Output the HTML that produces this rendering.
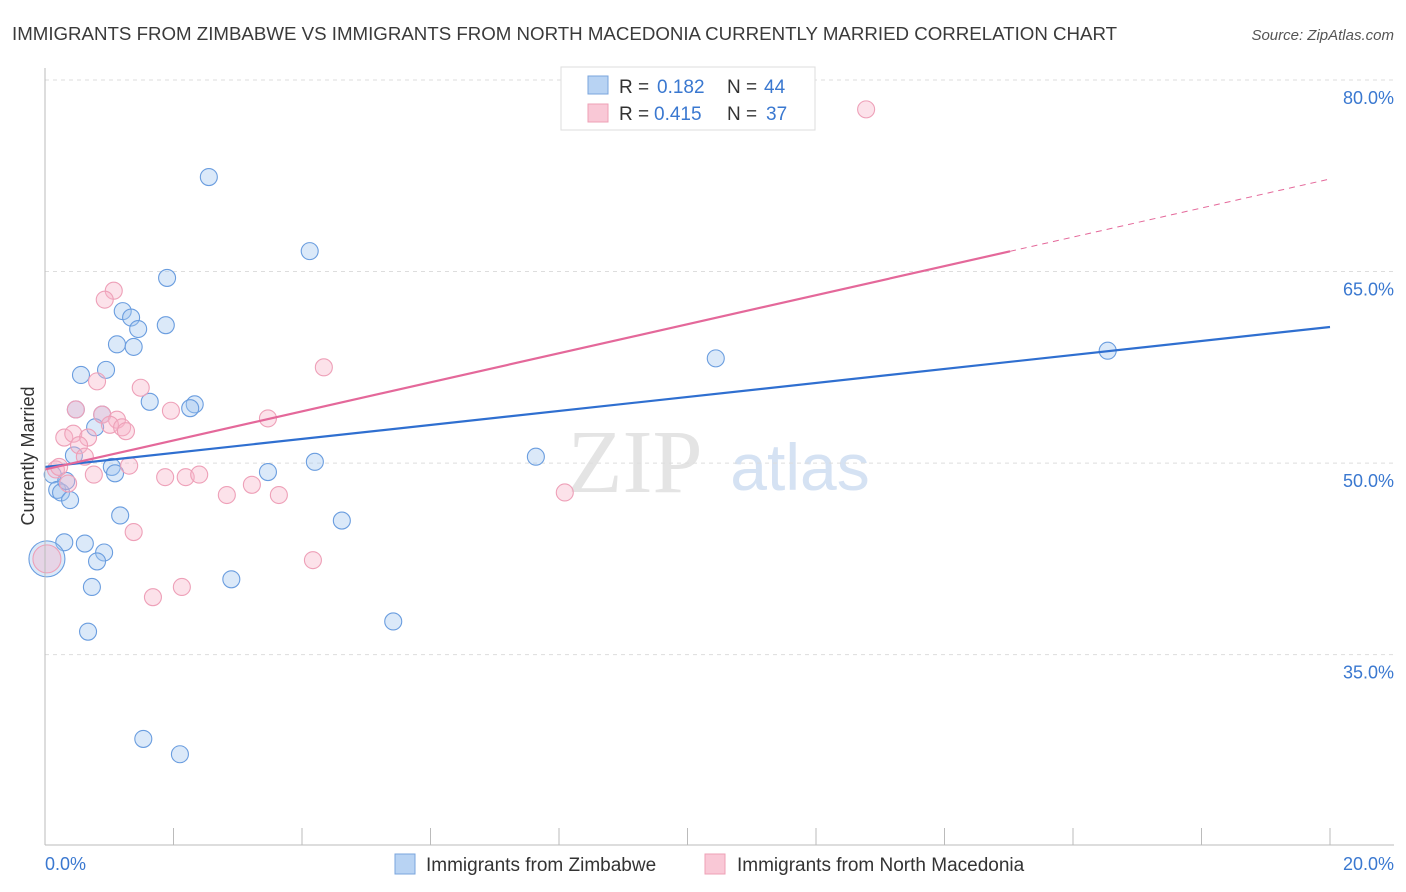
<!DOCTYPE html>
<html><head><meta charset="utf-8"><style>
body{margin:0;background:#fff;font-family:"Liberation Sans",sans-serif;}
svg{display:block}
</style></head><body>
<svg id="c" width="1406" height="892">
<text x="12" y="40" font-size="18.7" fill="#3a3a3a">IMMIGRANTS FROM ZIMBABWE VS IMMIGRANTS FROM NORTH MACEDONIA CURRENTLY MARRIED CORRELATION CHART</text>
<text x="1394" y="40" font-size="15" fill="#555" font-style="italic" text-anchor="end">Source: ZipAtlas.com</text>
<text x="34" y="456" font-size="18" fill="#333" text-anchor="middle" transform="rotate(-90 34 456)">Currently Married</text>
<text x="635" y="492" font-size="90" fill="#e4e4e4" font-family="Liberation Serif,serif" text-anchor="middle">ZIP</text>
<text x="800" y="490" font-size="66" fill="#d5e2f3" text-anchor="middle">atlas</text>
<g id="grid"></g><g id="pts"></g><g id="lines"></g>
<line x1="45" y1="68" x2="45" y2="845" stroke="#bbb"/>
<line x1="45" y1="845" x2="1394" y2="845" stroke="#bbb"/>
<text x="45" y="870" font-size="18" fill="#3a78d0">0.0%</text>
<text x="1394" y="870" font-size="18" fill="#3a78d0" text-anchor="end">20.0%</text>
<g>
<rect x="561" y="67" width="254" height="63" fill="#fff" stroke="#ddd"/>
<rect x="588" y="76" width="20" height="18" fill="#b8d3f3" stroke="#7aa5dd"/>
<rect x="588" y="104" width="20" height="18" fill="#f9c8d6" stroke="#eea0b6"/>
<text x="619" y="93" font-size="19" fill="#333">R =</text><text x="657" y="93" font-size="19" fill="#3a78d0">0.182</text>
<text x="727" y="93" font-size="19" fill="#333">N =</text><text x="764" y="93" font-size="19" fill="#3a78d0">44</text>
<text x="619" y="120" font-size="19" fill="#333">R =</text><text x="654" y="120" font-size="19" fill="#3a78d0">0.415</text>
<text x="727" y="120" font-size="19" fill="#333">N =</text><text x="766" y="120" font-size="19" fill="#3a78d0">37</text>
</g>
<g>
<rect x="395" y="854" width="20" height="20" fill="#b8d3f3" stroke="#7aa5dd"/>
<text x="426" y="871" font-size="19" fill="#333">Immigrants from Zimbabwe</text>
<rect x="705" y="854" width="20" height="20" fill="#f9c8d6" stroke="#eea0b6"/>
<text x="737" y="871" font-size="19" fill="#333">Immigrants from North Macedonia</text>
</g>
</svg>
<script>
const yTicks=[80,65,50,35];
const xTickVals=[0,2,4,6,8,10,12,14,16,18,20];
const zimX=[2.55,4.12,1.90,1.21,1.34,1.45,1.88,1.12,1.38,0.56,0.95,1.63,2.33,2.26,0.48,0.89,0.78,0.45,1.04,1.09,0.12,0.19,0.25,0.39,0.33,3.47,4.20,7.64,10.44,16.54,1.17,4.62,0.30,0.62,0.92,0.81,0.73,2.90,0.67,5.42,1.53,2.10,0.03];
const zimY=[72.4,66.6,64.5,61.9,61.4,60.5,60.8,59.3,59.1,56.9,57.3,54.8,54.6,54.3,54.2,53.8,52.8,50.6,49.7,49.2,49.1,47.9,47.7,47.1,48.6,49.3,50.1,50.5,58.2,58.8,45.9,45.5,43.8,43.7,43.0,42.3,40.3,40.9,36.8,37.6,28.4,27.2,42.5];
const macX=[12.78,1.07,0.93,4.34,0.81,1.49,1.96,3.47,0.48,0.89,1.12,1.01,1.20,1.26,0.30,0.44,0.67,0.53,0.62,0.17,0.22,1.31,0.76,1.87,2.19,2.40,2.83,3.22,3.64,0.36,8.09,1.38,4.17,2.13,1.68,0.03];
const macY=[77.7,63.5,62.8,57.5,56.4,55.9,54.1,53.5,54.2,53.8,53.4,53.0,52.8,52.5,52.0,52.3,52.0,51.4,50.5,49.5,49.7,49.8,49.1,48.9,48.9,49.1,47.5,48.3,47.5,48.4,47.7,44.6,42.4,40.3,39.5,42.5];
const zimTrend=[49.7,60.66];
const macTrend=[49.5,72.25];
const macSolidEnd=15.02;
const X=v=>45+v/20*1285, Y=v=>80+(80-v)*12.77;
const NS='http://www.w3.org/2000/svg';
function mk(t,a,p){const e=document.createElementNS(NS,t);for(const k in a)e.setAttribute(k,a[k]);p.appendChild(e);return e;}
const g=document.getElementById('grid'),pts=document.getElementById('pts'),ln=document.getElementById('lines');
yTicks.forEach(v=>{
 const l=mk('line',{x1:45,x2:1394,y1:Y(v),y2:Y(v),stroke:'#ddd','stroke-dasharray':'4,4'},g);
 
 
 const t=mk('text',{x:1394,y:Y(v)+24,'font-size':18,fill:'#3a78d0','text-anchor':'end'},g);
 t.textContent=v.toFixed(1)+'%';
 
 
});
xTickVals.forEach(v=>{
 const l=mk('line',{x1:X(v),x2:X(v),y1:828,y2:845,stroke:'#bbb'},g);
 
 
});
function pt(x,y,r,f,s,name){
 const c=mk('circle',{cx:X(x),cy:Y(y),r:r,fill:f,stroke:s,'stroke-width':1.1},pts);
 
 
}
zimX.forEach((x,i)=>pt(x,zimY[i],i==zimX.length-1?18:8.5,'rgba(160,196,240,0.38)','#6a9ddf','zimbabwe-point'));
macX.forEach((x,i)=>pt(x,macY[i],i==macX.length-1?14:8.5,'rgba(248,180,200,0.38)','#eea0b8','macedonia-point'));
const lerp=(tr,x)=>tr[0]+(tr[1]-tr[0])*x/20;
let l1=mk('line',{x1:X(0),y1:Y(lerp(zimTrend,0)),x2:X(20),y2:Y(lerp(zimTrend,20)),stroke:'#2f6fd0','stroke-width':2.2},ln);


let l2=mk('line',{x1:X(0),y1:Y(lerp(macTrend,0)),x2:X(macSolidEnd),y2:Y(lerp(macTrend,macSolidEnd)),stroke:'#e4689a','stroke-width':2.2},ln);


let l3=mk('line',{x1:X(macSolidEnd),y1:Y(lerp(macTrend,macSolidEnd)),x2:X(20),y2:Y(lerp(macTrend,20)),stroke:'#e4689a','stroke-width':1,'stroke-dasharray':'6,5'},ln);


</script>
</body></html>
